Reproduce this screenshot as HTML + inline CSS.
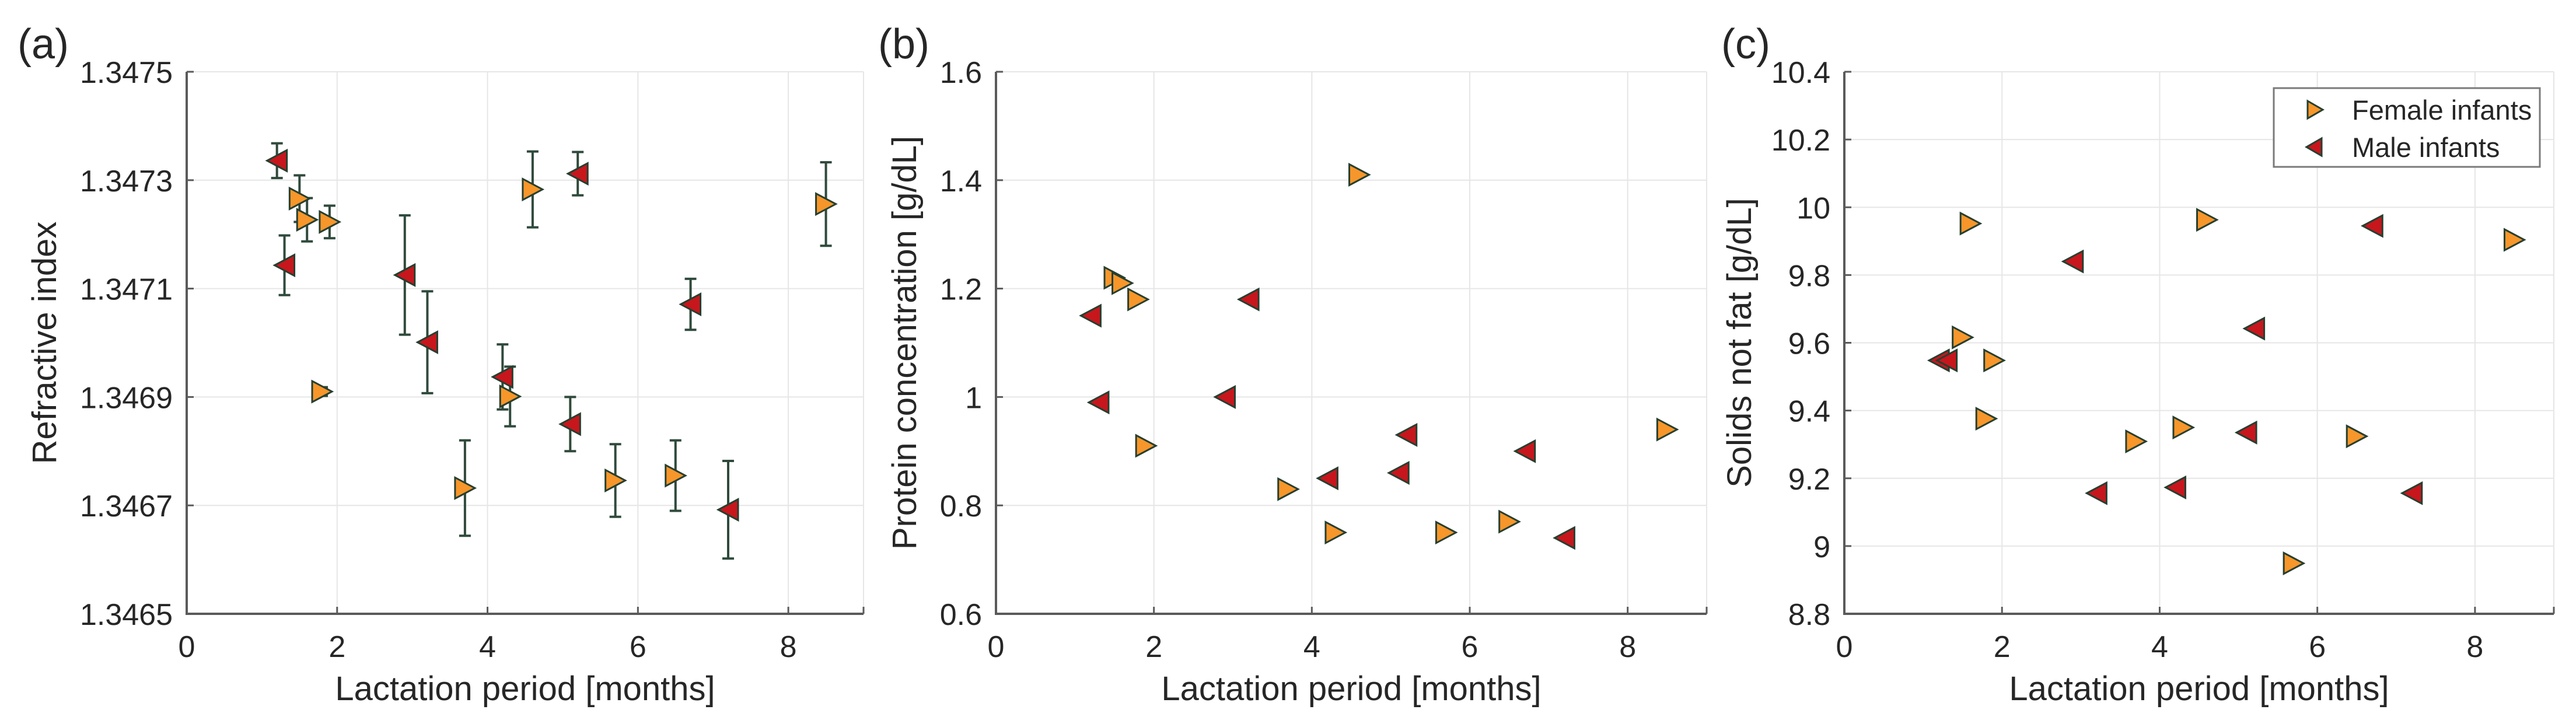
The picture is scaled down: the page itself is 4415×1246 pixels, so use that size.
<!DOCTYPE html>
<html><head><meta charset="utf-8"><style>
html,body{margin:0;padding:0;background:#fff}
svg{display:block}
text{font-family:"Liberation Sans",sans-serif;fill:#262626}
</style></head><body>
<svg id="fig" width="4415" height="1246" viewBox="0 0 4415 1246" xmlns="http://www.w3.org/2000/svg"></svg>
<script>
// ---- data ----
const femaleX = [1.5, 1.6, 1.8, 1.9, 3.7, 4.3, 4.6, 5.7, 6.5, 8.5];
const maleX = [1.2, 1.3, 2.9, 3.2, 4.2, 5.1, 5.2, 6.7, 7.2];
const riFemale = [1.347266, 1.347227, 1.34691, 1.347223, 1.346732, 1.346901, 1.347283, 1.346746, 1.346755, 1.347256];
const riFemaleErr = [0.000043, 0.00004, 0.000008, 0.00003, 0.000088, 0.000055, 0.00007, 0.000067, 0.000065, 0.000077];
const riMale = [1.347336, 1.347143, 1.347125, 1.347001, 1.346937, 1.34685, 1.347312, 1.347071, 1.346692];
const riMaleErr = [0.000032, 0.000055, 0.00011, 0.000094, 0.00006, 0.00005, 0.00004, 0.000047, 0.00009];
const protFemale = [1.22, 1.21, 1.18, 0.91, 0.83, 0.75, 1.41, 0.75, 0.77, 0.94];
const protMale = [1.15, 0.99, 1.00, 1.18, 0.85, 0.86, 0.93, 0.90, 0.74];
const snfFemale = [9.616, 9.952, 9.376, 9.548, 9.309, 9.35, 9.963, 8.949, 9.324, 9.904];
const snfMale = [9.548, 9.548, 9.84, 9.156, 9.173, 9.335, 9.642, 9.945, 9.156];
const xTicks = [0, 2, 4, 6, 8];
const riTicks = ["1.3465", "1.3467", "1.3469", "1.3471", "1.3473", "1.3475"];
const protTicks = ["0.6", "0.8", "1", "1.2", "1.4", "1.6"];
const snfTicks = ["8.8", "9", "9.2", "9.4", "9.6", "9.8", "10", "10.2", "10.4"];

const NS = "http://www.w3.org/2000/svg";
const svg = document.getElementById("fig");
function mk(tag, attrs, parent) {
  const e = document.createElementNS(NS, tag);
  for (const k in attrs) e.setAttribute(k, attrs[k]);
  (parent || svg).appendChild(e);
  return e;
}
const T = 123, B = 1052;
const FEM = "#f7962a", MAL = "#c8161d", EDGE = "#263f30";

function panel(opt) {
  const g = mk("g", {});
  
  
  const L = opt.L, R = opt.R;
  const xs = v => L + (v - 0) / 9 * (R - L);
  const ys = v => B - (v - opt.ymin) / (opt.ymax - opt.ymin) * (B - T);
  // grid
  xTicks.forEach(t => {
    const l = mk("line", {x1: xs(t), x2: xs(t), y1: T, y2: B, stroke: "#e6e6e6", "stroke-width": 2}, g);
    
    
  });
  opt.yTicks.forEach(t => {
    const v = parseFloat(t);
    const l = mk("line", {x1: L, x2: R, y1: ys(v), y2: ys(v), stroke: "#e6e6e6", "stroke-width": 2}, g);
    
    
  });
  mk("line", {x1: R, x2: R, y1: T, y2: B, stroke: "#e6e6e6", "stroke-width": 2}, g);
  // axes
  const ax = mk("path", {d: `M${L},${T} L${L},${B} L${R},${B}`, fill: "none", stroke: "#5a5a5a", "stroke-width": 4}, g);
  
  
  // x ticks
  xTicks.concat([9]).forEach(t => {
    mk("line", {x1: xs(t), x2: xs(t), y1: B, y2: B - 12, stroke: "#5a5a5a", "stroke-width": 3}, g);
  });
  xTicks.forEach(t => {
    const tx = mk("text", {x: xs(t), y: 1126, "font-size": 52, "text-anchor": "middle"}, g);
    tx.textContent = t;
    
    
  });
  opt.yTicks.forEach(t => {
    const v = parseFloat(t);
    mk("line", {x1: L, x2: L + 12, y1: ys(v), y2: ys(v), stroke: "#5a5a5a", "stroke-width": 3}, g);
    const tx = mk("text", {x: L - 24, y: ys(v) + 19, "font-size": 52, "text-anchor": "end"}, g);
    tx.textContent = t;
    
    
  });
  const xl = mk("text", {x: (L + R) / 2, y: 1200, "font-size": 58, "text-anchor": "middle"}, g);
  xl.textContent = "Lactation period [months]";
  
  
  const yl = mk("text", {x: 0, y: 0, "font-size": 58, "text-anchor": "middle", transform: `translate(${opt.ylx},${(T + B) / 2}) rotate(-90)`}, g);
  yl.textContent = opt.ylabel;
  
  
  const pl = mk("text", {x: opt.plx, y: 100, "font-size": 72, "text-anchor": "start"}, g);
  pl.textContent = opt.tag;
  
  
  // error bars
  function errs(xa, ya, ea) {
    xa.forEach((x, i) => {
      const cx = xs(x), y1 = ys(ya[i] + ea[i]), y2 = ys(ya[i] - ea[i]);
      const p = mk("path", {d: `M${cx},${y1} L${cx},${y2} M${cx - 10},${y1} L${cx + 10},${y1} M${cx - 10},${y2} L${cx + 10},${y2}`, stroke: "#2f4a3c", "stroke-width": 4, fill: "none"}, g);
      
      
    });
  }
  if (opt.fErr) { errs(maleX, opt.m, opt.mErr); errs(femaleX, opt.f, opt.fErr); }
  function tri(cx, cy, right, col) {
    const w = 17, h = 18;
    const d = right ? `M${cx - w},${cy - h} L${cx + w},${cy} L${cx - w},${cy + h} Z`
                    : `M${cx + w},${cy - h} L${cx - w},${cy} L${cx + w},${cy + h} Z`;
    return mk("path", {d: d, fill: col, stroke: EDGE, "stroke-width": 3, "stroke-linejoin": "miter"}, g);
  }
  maleX.forEach((x, i) => {
    const m = tri(xs(x), ys(opt.m[i]), false, MAL);
    
    
  });
  femaleX.forEach((x, i) => {
    const m = tri(xs(x), ys(opt.f[i]), true, FEM);
    
    
  });
  return {g, tri};
}

panel({name: "panel-a-refractive-index", L: 320, R: 1480, ymin: 1.3465, ymax: 1.3475, yTicks: riTicks,
  ylabel: "Refractive index", ylx: 96, plx: 30, tag: "(a)", f: riFemale, m: riMale, fErr: riFemaleErr, mErr: riMaleErr});
panel({name: "panel-b-protein", L: 1707, R: 2925, ymin: 0.6, ymax: 1.6, yTicks: protTicks,
  ylabel: "Protein concentration [g/dL]", ylx: 1570, plx: 1505, tag: "(b)", f: protFemale, m: protMale});
const pc = panel({name: "panel-c-solids-not-fat", L: 3161, R: 4377, ymin: 8.8, ymax: 10.4, yTicks: snfTicks,
  ylabel: "Solids not fat [g/dL]", ylx: 3001, plx: 2950, tag: "(c)", f: snfFemale, m: snfMale});

// legend
const lg = mk("g", {});


mk("rect", {x: 3897, y: 151, width: 456, height: 135, fill: "#fff", stroke: "#7a7a7a", "stroke-width": 3}, lg);
function legendTri(cx, cy, right, col) {
  const w = 13, h = 15;
  const d = right ? `M${cx - w},${cy - h} L${cx + w},${cy} L${cx - w},${cy + h} Z`
                  : `M${cx + w},${cy - h} L${cx - w},${cy} L${cx + w},${cy + h} Z`;
  return mk("path", {d: d, fill: col, stroke: EDGE, "stroke-width": 3}, lg);
}
const le1 = legendTri(3968, 188, true, FEM);


const le2 = legendTri(3966, 252, false, MAL);


const t1 = mk("text", {x: 4031, y: 205, "font-size": 47}, lg);
t1.textContent = "Female infants";


const t2 = mk("text", {x: 4031, y: 269, "font-size": 47}, lg);
t2.textContent = "Male infants";


</script>
</body></html>
